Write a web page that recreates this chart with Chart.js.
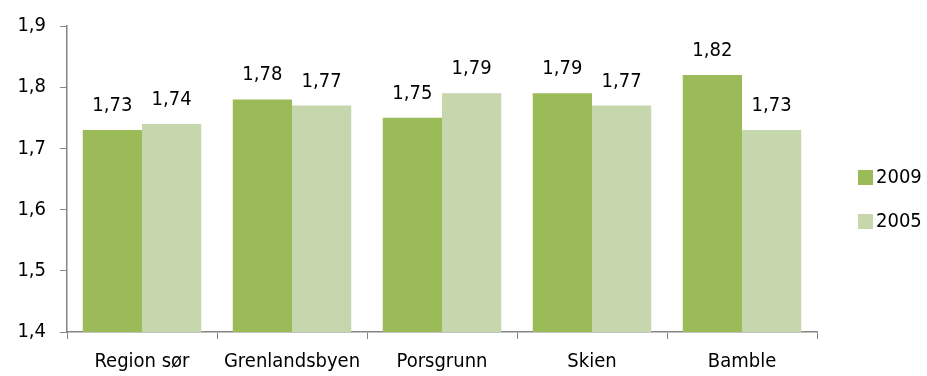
<!DOCTYPE html>
<html>
<head>
<meta charset="utf-8">
<script src="https://cdn.jsdelivr.net/npm/chart.js@4/dist/chart.umd.min.js"></script>
<style>
  html, body { margin: 0; padding: 0; background: #fff; }
  #wrap { width: 927px; height: 376px; position: relative; }
</style>
</head>
<body>
<div id="wrap"><canvas id="barChart"></canvas></div>
<script>
// chart data
const categories = ['Region sør', 'Grenlandsbyen', 'Porsgrunn', 'Skien', 'Bamble'];
const values2009 = [1.73, 1.78, 1.75, 1.79, 1.82];
const values2005 = [1.74, 1.77, 1.79, 1.77, 1.73];
const yTicks = [1.4, 1.5, 1.6, 1.7, 1.8, 1.9];

const FONT = "'DejaVu Sans', sans-serif";
// narrow look: font-stretch goes in front of the size in the font string
const tickFont = { family: FONT, size: 20, weight: 'condensed' };
const fmt = v => v.toFixed(1).replace('.', ',');

// value labels above the bars
const barLabels = {
    id: 'barLabels',
    afterDatasetsDraw(chart) {
        const ctx = chart.ctx;
        ctx.save();
        ctx.font = 'condensed 20px ' + FONT;
        ctx.fillStyle = '#000';
        ctx.textAlign = 'center';
        ctx.textBaseline = 'alphabetic';
        chart.data.datasets.forEach((ds, i) => {
            chart.getDatasetMeta(i).data.forEach((bar, j) => {
                ctx.fillText(ds.data[j].toFixed(2).replace('.', ','), bar.x, bar.y - 19);
            });
        });
        ctx.restore();
    }
};

// legend on the right
const sideLegend = {
    id: 'sideLegend',
    afterDraw(chart) {
        const ctx = chart.ctx;
        ctx.save();
        ctx.font = 'condensed 20px ' + FONT;
        ctx.textBaseline = 'middle';
        chart.data.datasets.forEach((ds, i) => {
            const y = 177 + i * 44;
            ctx.fillStyle = ds.backgroundColor;
            ctx.fillRect(858, y - 7, 15, 15);
            ctx.fillStyle = '#000';
            ctx.fillText(ds.label, 876, y + 1);
        });
        ctx.restore();
    }
};

new Chart(document.getElementById('barChart'), {
    type: 'bar',
    data: {
        labels: categories,
        datasets: [{
            label: '2009',
            data: values2009,
            backgroundColor: '#9bbb59'
        }, {
            label: '2005',
            data: values2005,
            backgroundColor: '#c6d6ad'
        }]
    },
    options: {
        responsive: true,
        maintainAspectRatio: false,
        animation: false,
        categoryPercentage: 0.79,
        barPercentage: 1,
        layout: { padding: { top: 25, right: 110, bottom: 0, left: 0 } },
        plugins: {
            legend: { display: false },
            tooltip: { enabled: false }
        },
        scales: {
            x: {
                grid: { offset: true, drawOnChartArea: false, tickLength: 7, color: '#868686' },
                border: { color: '#868686', width: 1.5 },
                ticks: { color: '#000', font: tickFont, padding: 11 },
                afterFit: s => { s.height = 44; }
            },
            y: {
                min: 1.4,
                max: 1.9,
                afterBuildTicks: s => { s.ticks = yTicks.map(v => ({ value: v })); },
                grid: { drawOnChartArea: false, tickLength: 7, color: '#868686' },
                border: { color: '#868686', width: 1.5 },
                ticks: { color: '#000', font: tickFont, padding: 14, callback: v => fmt(v) },
                afterFit: s => { s.width = 67; }
            }
        }
    },
    plugins: [barLabels, sideLegend]
});
</script>
</body>
</html>
